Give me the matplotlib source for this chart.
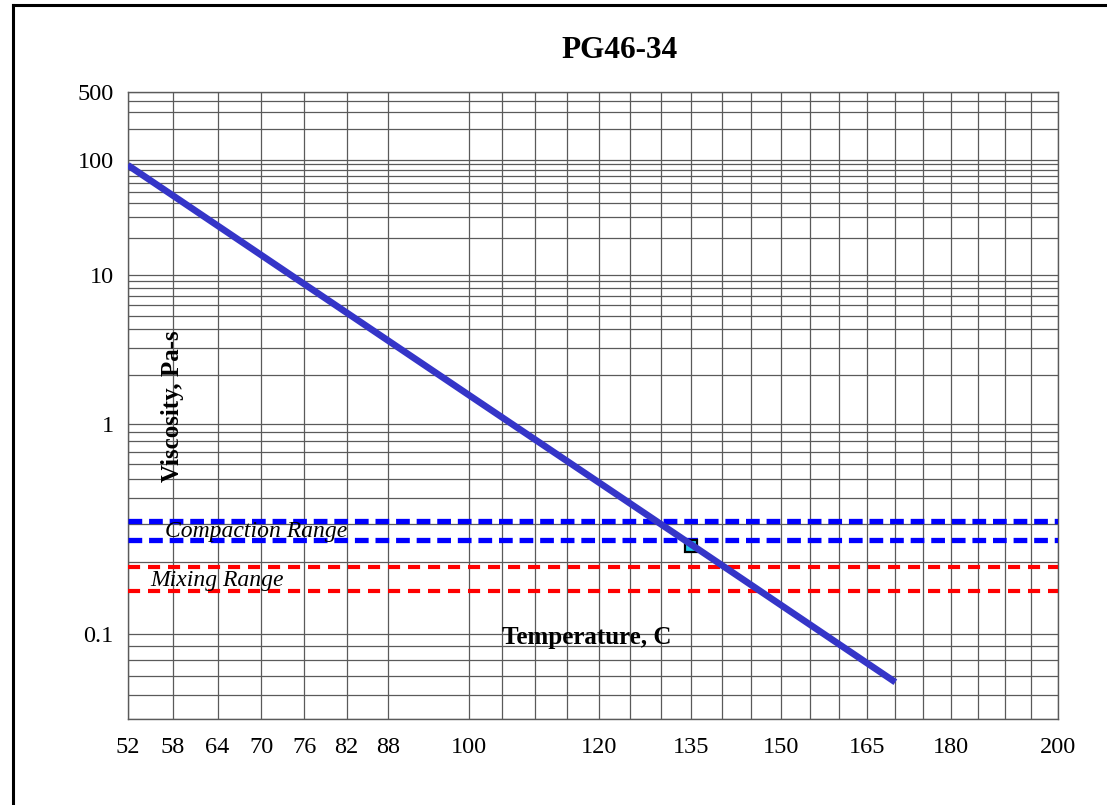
import numpy as np
import matplotlib

matplotlib.use("Agg")
import matplotlib.pyplot as plt
from matplotlib.lines import Line2D

plt.rcParams["font.family"] = ["Liberation Serif", "DejaVu Serif"]

# viscosity-temperature line
TEMP_C = [52, 100, 135, 170]
VISC_PAS = [88.4, 1.49, 0.239, 0.0667]

# measured point
MEAS_T = [135]
MEAS_V = [0.236]

COMPACTION_RANGE = [0.25, 0.31]
MIXING_RANGE = [0.15, 0.19]

X_LABELED = [52, 58, 64, 70, 76, 82, 88, 100, 120, 135, 150, 165, 180, 200]
X_GRID = [52, 58, 64, 70, 76, 82, 88] + list(range(100, 201, 5))
Y_LABELED = [0.1, 1, 10, 100, 500]
Y_TICKLABELS = ["0.1", "1", "10", "100", "500"]
Y_GRID = ([0.05, 0.06, 0.07, 0.08, 0.09]
          + [0.1, 0.2, 0.3, 0.4, 0.5, 0.6, 0.7, 0.8, 0.9]
          + [1, 2, 3, 4, 5, 6, 7, 8, 9]
          + [10, 20, 30, 40, 50, 60, 70, 80, 90]
          + [100, 200, 300, 400, 500])


# x: log of absolute temperature, y: log-log of viscosity in cP
def t_fwd(t):
    return np.log10(np.asarray(t, dtype=float) + 273.15)


def t_inv(v):
    return 10 ** np.asarray(v, dtype=float) - 273.15


def v_fwd(eta):
    eta = np.asarray(eta, dtype=float)
    with np.errstate(divide="ignore", invalid="ignore"):
        return np.log10(np.log10(eta * 1000.0))


def v_inv(v):
    v = np.asarray(v, dtype=float)
    with np.errstate(over="ignore"):
        return 10 ** (10 ** v) / 1000.0


fig = plt.figure(figsize=(11.07, 8.05), dpi=100)
ax = fig.add_axes([0.1154, 0.1068, 0.8401, 0.7793])
ax.set_xscale("function", functions=(t_fwd, t_inv))
ax.set_yscale("function", functions=(v_fwd, v_inv))
ax.set_xlim(52, 200)
ax.set_ylim(0.05, 500)

grid_color = "#5a5a5a"
for t in X_GRID:
    ax.axvline(t, color=grid_color, lw=0.9, zorder=1)
for v in Y_GRID:
    ax.axhline(v, color=grid_color, lw=0.9, zorder=1)

for v in COMPACTION_RANGE:
    ax.axhline(v, color="#0000ff", lw=3.8, dashes=(2.6, 1.3), zorder=3)
for v in MIXING_RANGE:
    ax.axhline(v, color="#ff0000", lw=3.0, dashes=(2.9, 1.9), zorder=3)

ax.plot(MEAS_T, MEAS_V, marker="s", ms=8, mfc="#22ccee", mec="black",
        mew=1.6, ls="none", zorder=4)
ax.plot(TEMP_C, VISC_PAS, color="#3535c8", lw=4.8, solid_capstyle="butt",
        zorder=5)

ax.set_xticks(X_LABELED)
ax.set_xticklabels([str(t) for t in X_LABELED])
ax.set_xticks([], minor=True)
ax.set_yticks(Y_LABELED)
ax.set_yticklabels(Y_TICKLABELS)
ax.set_yticks([], minor=True)
ax.tick_params(axis="both", length=0, labelsize=17.5)
ax.tick_params(axis="x", pad=13)
ax.tick_params(axis="y", pad=10)
for s in ax.spines.values():
    s.set_color(grid_color)
    s.set_linewidth(1.0)

ax.text(0.138, 0.299, "Compaction Range", transform=ax.transAxes,
        style="italic", fontsize=17, ha="center", va="center", zorder=4)
ax.text(0.096, 0.2216, "Mixing Range", transform=ax.transAxes,
        style="italic", fontsize=17, ha="center", va="center", zorder=4)
ax.text(0.494, 0.1298, "Temperature, C", transform=ax.transAxes,
        fontsize=18, fontweight="bold", ha="center", va="center", zorder=4)
fig.text(172 / 1107, 1 - 406 / 805, "Viscosity, Pa-s", rotation=90,
         fontsize=18, fontweight="bold", ha="center", va="center")
fig.text(620 / 1107, 1 - 50 / 805, "PG46-34", fontsize=22.5,
         fontweight="bold", ha="center", va="center")

# outer frame (only top and left edges are visible)
fig.add_artist(Line2D([13 / 1107, 1.0], [1 - 5.3 / 805] * 2,
                      transform=fig.transFigure, color="black", lw=2.2))
fig.add_artist(Line2D([13 / 1107] * 2, [0.0, 1 - 5.3 / 805],
                      transform=fig.transFigure, color="black", lw=2.2))

fig.savefig("out.png", dpi=100)
